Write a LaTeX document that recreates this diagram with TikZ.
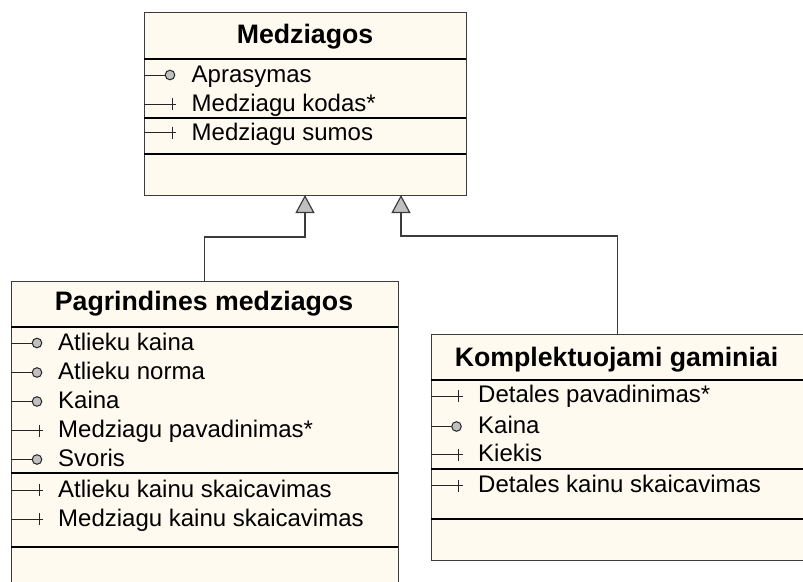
\documentclass[tikz,border=0pt]{standalone}
\usepackage{fontspec}
\setmainfont{Liberation Sans}
\usetikzlibrary{arrows.meta}
\definecolor{boxfill}{HTML}{FFFAF0}
\definecolor{boxline}{HTML}{3C3C3C}
\definecolor{iconline}{HTML}{262626}
\definecolor{circfill}{HTML}{C0C0C0}
\newcommand\umlcirc[2]{\draw[icon] (#1,#2) -- ++(21,0); \draw[icon,fill=circfill] (#1+26,#2) circle (4.8);}
\newcommand\umlplus[2]{\draw[icon] (#1,#2) -- ++(32,0); \draw[icon] (#1+28,#2-6) -- ++(0,12);}
\tikzset{
  cls/.style={draw=boxline, fill=boxfill, line width=1.2pt, anchor=north west, inner sep=0pt},
  sep/.style={draw=black, line width=1.2pt},
  icon/.style={draw=iconline, line width=1pt},
  ttl/.style={anchor=base, inner sep=0pt, font=\fontsize{26.7}{30}\selectfont\bfseries},
  attr/.style={anchor=base west, inner sep=0pt, font=\fontsize{24}{28}\selectfont},
  inh/.style={draw=boxline, line width=1.2pt, -{Triangle[length=18pt,width=19pt,fill=circfill]}}
}
\begin{document}
\begin{tikzpicture}[x=1pt,y=-1pt]
\useasboundingbox (0,0) rectangle (803,581);
% ---------- Medziagos ----------
\node[cls, minimum width=322pt, minimum height=183pt] (top) at (144,12) {};
\draw[sep] (144,59) -- (466,59);
\draw[sep] (144,118) -- (466,118);
\draw[sep] (144,154) -- (466,154);
\node[ttl] (ttop) at (305,43.5) {Medziagos};
\umlcirc{144}{75}
\node[attr] (a1) at (191.5,82.5) {Aprasymas};
\umlplus{144}{104}
\node[attr] (a2) at (191.5,111.5) {Medziagu kodas*};
\umlplus{144}{132.5}
\node[attr] (a3) at (191.5,140) {Medziagu sumos};
% ---------- Pagrindines medziagos ----------
\node[cls, minimum width=386.5pt, minimum height=320pt] (lb) at (11,280.5) {};
\draw[sep] (11,327) -- (397.5,327);
\draw[sep] (11,473) -- (397.5,473);
\draw[sep] (11,547) -- (397.5,547);
\node[ttl] (tlb) at (204,310) {Pagrindines medziagos};
\umlcirc{11}{343}
\node[attr] (b1) at (58,350) {Atlieku kaina};
\umlcirc{11}{372.5}
\node[attr] (b2) at (58,379.5) {Atlieku norma};
\umlcirc{11}{401.5}
\node[attr] (b3) at (58,408.5) {Kaina};
\umlplus{11}{430.5}
\node[attr] (b4) at (58,437.5) {Medziagu pavadinimas*};
\umlcirc{11}{459.5}
\node[attr] (b5) at (58,466.5) {Svoris};
\umlplus{11}{490}
\node[attr] (b6) at (58,497) {Atlieku kainu skaicavimas};
\umlplus{11}{519}
\node[attr] (b7) at (58,526.5) {Medziagu kainu skaicavimas};
% ---------- Komplektuojami gaminiai ----------
\node[cls, minimum width=372pt, minimum height=226pt] (rb) at (430.5,334) {};
\draw[sep] (430.5,380) -- (802.5,380);
\draw[sep] (430.5,469) -- (802.5,469);
\draw[sep] (430.5,519) -- (802.5,519);
\node[ttl] (trb) at (616.5,366.5) {Komplektuojami gaminiai};
\umlplus{430.5}{396}
\node[attr] (c1) at (478,402.5) {Detales pavadinimas*};
\umlcirc{430.5}{426.5}
\node[attr] (c2) at (478,433) {Kaina};
\umlplus{430.5}{454.5}
\node[attr] (c3) at (478,461) {Kiekis};
\umlplus{430.5}{485.5}
\node[attr] (c4) at (478,492.5) {Detales kainu skaicavimas};
% ---------- inheritance ----------
\coordinate (t1) at (305,195);
\coordinate (t2) at (401,195);
\draw[inh] (lb.north) -- ++(0,-43.5) -| (t1);
\draw[inh] (rb.north) -- ++(0,-98) -| (t2);
\end{tikzpicture}
\end{document}
